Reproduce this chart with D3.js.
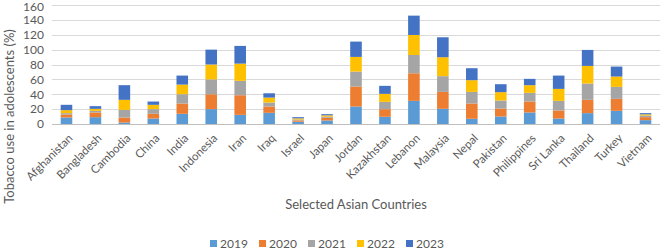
<!DOCTYPE html>
<html>
<head>
<meta charset="utf-8">
<script src="https://cdn.jsdelivr.net/npm/d3@7"></script>
<style>
  body { margin: 0; background: #fff; }
  text { font-family: Lato, "Open Sans", sans-serif; fill: #595959; }
</style>
</head>
<body>
<div id="chart"></div>
<script>
/* dimensions */
const width = 660, height = 249;
const margin = {top: 5, right: 0, bottom: 125, left: 52};

/* data */
const countries = ["Afghanistan","Bangladesh","Cambodia","China","India","Indonesia","Iran","Iraq","Israel","Japan","Jordan","Kazakhstan","Lebanon","Malaysia","Nepal","Pakistan","Philippines","Sri Lanka","Thailand","Turkey","Vietnam"];
const years = ["2019","2020","2021","2022","2023"];
const v2019 = [8.8, 9.2, 2, 7.4, 13.7, 20, 12.3, 15, 3, 4.7, 23.5, 9.7, 31.1, 20.4, 7, 10.1, 15.5, 7.4, 14.6, 17.7, 5.2];
const v2020 = [4, 6.3, 6.7, 6.3, 13.8, 20, 26.4, 8.5, 1.8, 3.6, 26.9, 10.2, 37.1, 22.8, 20.6, 10.7, 14.8, 10.8, 17.9, 16.1, 4];
const v2021 = [1.8, 2.2, 10.3, 6.3, 12.6, 20, 19.3, 5.4, 1.3, 1.5, 20.1, 9.9, 24.6, 21.1, 15.6, 10.8, 11.6, 12.9, 21.9, 16.1, 2.2];
const v2022 = [4, 2.7, 13.5, 5.8, 12.9, 20, 23.2, 6.6, 1.5, 1.8, 19.7, 10.7, 26.9, 25.5, 15.7, 11.2, 10.3, 16.1, 23.7, 13.9, 1.6];
const v2023 = [7.2, 3.6, 19.7, 4.4, 12.1, 20, 23.8, 5.8, 1.6, 1.6, 20.6, 10.8, 26.0, 26.8, 16.1, 10.7, 8.5, 17.9, 21.5, 13.4, 1.6];
const yTicks = [0, 20, 40, 60, 80, 100, 120, 140, 160];
const colors = ["#5B9BD5", "#ED7D31", "#A5A5A5", "#FFC000", "#4472C4"];

const table = countries.map((c, i) => ({
  country: c, "2019": v2019[i], "2020": v2020[i], "2021": v2021[i], "2022": v2022[i], "2023": v2023[i]
}));

const svg = d3.select("#chart").append("svg")
  .attr("width", width)
  .attr("height", height);

const x = d3.scaleBand()
  .domain(countries)
  .range([margin.left, width - margin.right])
  .paddingInner(0.6)
  .paddingOuter(0.3);

const y = d3.scaleLinear()
  .domain([0, 160])
  .range([height - margin.bottom, margin.top]);

const color = d3.scaleOrdinal().domain(years).range(colors);

/* grid */
svg.append("g")
  .selectAll("line")
  .data(yTicks)
  .join("line")
  .attr("x1", margin.left)
  .attr("x2", width - margin.right)
  .attr("y1", d => Math.round(y(d)) + 0.5)
  .attr("y2", d => Math.round(y(d)) + 0.5)
  .attr("stroke", d => d === 0 ? "#bfbfbf" : "#d9d9d9")
  .attr("stroke-width", 1);

/* y axis labels */
const yAxis = svg.append("g")
  .attr("transform", `translate(${margin.left},0)`)
  .call(d3.axisLeft(y).tickValues(yTicks).tickSize(0).tickPadding(8));
yAxis.select(".domain").remove();
yAxis.selectAll("text")
  .style("font-family", "Lato, 'Open Sans', sans-serif")
  .style("font-size", "12px")
  .attr("fill", "#595959")
  .attr("dy", d => d === 160 ? "0.42em" : "0.32em");

/* stacked bars */
const series = d3.stack().keys(years)(table);

svg.append("g")
  .selectAll("g")
  .data(series)
  .join("g")
  .attr("fill", d => color(d.key))
  .selectAll("rect")
  .data(d => d)
  .join("rect")
  .attr("x", d => x(d.data.country))
  .attr("y", d => y(d[1]))
  .attr("width", x.bandwidth())
  .attr("height", d => y(d[0]) - y(d[1]));

/* x axis labels */
const xAxis = svg.append("g")
  .attr("transform", `translate(0,${height - margin.bottom})`)
  .call(d3.axisBottom(x).tickSize(0).tickPadding(0));
xAxis.select(".domain").remove();
xAxis.selectAll("text")
  .style("font-family", "Lato, 'Open Sans', sans-serif")
  .style("font-size", "11.5px")
  .attr("fill", "#595959")
  .attr("text-anchor", "end")
  .attr("dy", "0.35em")
  .attr("transform", "translate(4,12) rotate(-45)");

/* axis titles */
svg.append("text")
  .attr("transform", `translate(14,${(margin.top + 228) / 2}) rotate(-90)`)
  .attr("text-anchor", "middle")
  .style("font-size", "13px")
  .text("Tobacco use in adolescents (%)");

svg.append("text")
  .attr("x", (margin.left + width - margin.right) / 2)
  .attr("y", 209)
  .attr("text-anchor", "middle")
  .style("font-size", "13px")
  .text("Selected Asian Countries");

/* legend */
const legend = svg.append("g")
  .selectAll("g")
  .data(years)
  .join("g")
  .attr("transform", (d, i) => `translate(${210 + i * 49},240)`);

legend.append("rect")
  .attr("width", 7)
  .attr("height", 7)
  .attr("fill", d => color(d));

legend.append("text")
  .attr("x", 10)
  .attr("y", 7.5)
  .style("font-size", "12px")
  .text(d => d);
</script>
</body>
</html>
